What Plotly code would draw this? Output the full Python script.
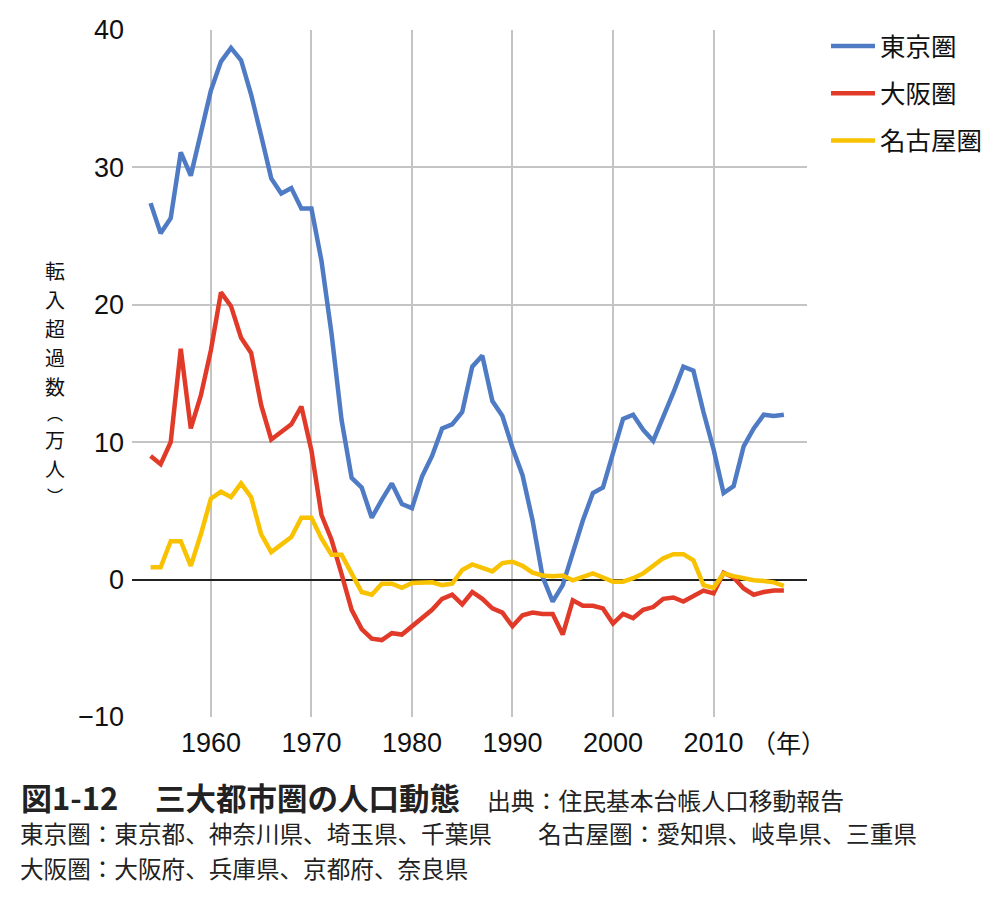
import plotly.graph_objects as go

years = [1954, 1955, 1956, 1957, 1958, 1959, 1960, 1961, 1962, 1963,
         1964, 1965, 1966, 1967, 1968, 1969, 1970, 1971, 1972, 1973,
         1974, 1975, 1976, 1977, 1978, 1979, 1980, 1981, 1982, 1983,
         1984, 1985, 1986, 1987, 1988, 1989, 1990, 1991, 1992, 1993,
         1994, 1995, 1996, 1997, 1998, 1999, 2000, 2001, 2002, 2003,
         2004, 2005, 2006, 2007, 2008, 2009, 2010, 2011, 2012, 2013,
         2014, 2015, 2016, 2017]

tokyo = [27.4, 25.2, 26.3, 31.1, 29.4, 32.5, 35.6, 37.7, 38.7, 37.8,
         35.3, 32.3, 29.2, 28.1, 28.5, 27.0, 27.0, 23.2, 17.9, 11.6,
         7.4, 6.7, 4.5, 5.8, 7.0, 5.5, 5.2, 7.5, 9.0, 11.0,
         11.3, 12.2, 15.5, 16.3, 13.0, 11.9, 9.6, 7.6, 4.3, 0.2,
         -1.6, -0.4, 2.0, 4.3, 6.3, 6.7, 9.2, 11.7, 12.0, 10.9,
         10.1, 11.8, 13.6, 15.5, 15.2, 12.2, 9.5, 6.3, 6.8, 9.7,
         11.0, 12.0, 11.9, 12.0]

osaka = [9.0, 8.4, 10.0, 16.8, 11.0, 13.4, 16.7, 20.9, 19.9, 17.6,
         16.5, 12.7, 10.2, 10.8, 11.3, 12.6, 9.4, 4.7, 2.9, 0.4,
         -2.2, -3.6, -4.3, -4.4, -3.9, -4.0, -3.4, -2.8, -2.2, -1.4,
         -1.1, -1.8, -0.9, -1.4, -2.1, -2.4, -3.4, -2.6, -2.4, -2.5,
         -2.5, -4.0, -1.5, -1.9, -1.9, -2.1, -3.2, -2.5, -2.8, -2.2,
         -2.0, -1.4, -1.3, -1.6, -1.2, -0.8, -1.0, 0.5, 0.15, -0.65,
         -1.1, -0.9, -0.8, -0.8]

nagoya = [0.9, 0.9, 2.8, 2.8, 1.0, 3.3, 5.9, 6.4, 6.0, 7.0,
          6.0, 3.3, 2.0, 2.6, 3.1, 4.5, 4.5, 3.0, 1.8, 1.8,
          0.4, -0.9, -1.1, -0.3, -0.3, -0.6, -0.25, -0.2, -0.2, -0.4,
          -0.3, 0.7, 1.1, 0.85, 0.6, 1.2, 1.3, 1.0, 0.5, 0.3,
          0.25, 0.3, -0.05, 0.2, 0.45, 0.15, -0.15, -0.15, 0.1, 0.45,
          1.0, 1.55, 1.85, 1.85, 1.4, -0.4, -0.6, 0.45, 0.25, 0.1,
          -0.05, -0.1, -0.2, -0.45]

series_names = ["東京圏", "大阪圏", "名古屋圏"]
series_colors = ["#4f7bc4", "#e13a29", "#f9c200"]
x_ticks = [1960, 1970, 1980, 1990, 2000, 2010]
y_ticks = [-10, 0, 10, 20, 30, 40]
ytitle_chars = ["転", "入", "超", "過", "数", "︵", "万", "人", "︶"]

W, H = 1000, 899
L, R, T, B = 132, 807, 30, 717

def px(x):
    return (x - L) / (R - L)

def py(y):
    return (B - y) / (B - T)

NUM_FONT = "Liberation Sans, Arial, sans-serif"
JP_FONT = "Noto Sans CJK JP, sans-serif"

fig = go.Figure()
for i, (name, vals) in enumerate(zip(series_names, [tokyo, osaka, nagoya])):
    fig.add_trace(go.Scatter(
        x=years, y=vals, mode="lines", name=name,
        legendgroup=name,
        line=dict(color=series_colors[i], width=4.5),
    ))

fig.update_layout(
    width=W, height=H,
    margin=dict(l=L, r=W - R, t=T, b=H - B, pad=0),
    paper_bgcolor="white", plot_bgcolor="white",
    showlegend=True,
    legend=dict(
        x=0.826, xref="container", y=1 - 23 / H, yref="container",
        xanchor="left", yanchor="top",
        font=dict(family=JP_FONT, size=25.5, color="#111"),
        traceorder="grouped", tracegroupgap=11, itemwidth=44,
        bgcolor="rgba(0,0,0,0)",
    ),
    xaxis=dict(
        range=[1952.15, 2019.3], tickvals=x_ticks,
        showgrid=True, gridcolor="#c4c4c4", gridwidth=1.5,
        zeroline=False, showline=False, ticks="",
        tickfont=dict(family=NUM_FONT, size=27, color="#111"),
        ticklabelstandoff=7,
    ),
    yaxis=dict(
        range=[-10, 40], tickvals=y_ticks,
        showgrid=True, gridcolor="#c4c4c4", gridwidth=1.5,
        zeroline=True, zerolinecolor="#222", zerolinewidth=1.5,
        showline=False, ticks="",
        tickfont=dict(family=NUM_FONT, size=27, color="#111"),
        ticklabelstandoff=7,
    ),
)

annotations = []
# (年) label
annotations.append(dict(text="（年）", x=px(788), y=py(742), xref="paper", yref="paper",
                        showarrow=False, xanchor="center", yanchor="middle",
                        font=dict(family=JP_FONT, size=25, color="#111")))
# vertical y-axis title, one character per annotation
ytitle_y = [270, 299.2, 328.4, 357.6, 386.8, 413, 439.2, 468.4, 494.6]
ytitle_size = [20, 20, 20, 20, 20, 16, 20, 20, 16]
for ch, yy, sz in zip(ytitle_chars, ytitle_y, ytitle_size):
    annotations.append(dict(text=ch, x=px(55), y=py(yy), xref="paper", yref="paper",
                            showarrow=False, xanchor="center", yanchor="middle",
                            font=dict(family=JP_FONT, size=sz, color="#111")))
# captions
annotations.append(dict(text="<b>図1-12</b>", x=px(19), y=py(797), xref="paper", yref="paper",
                        showarrow=False, xanchor="left", yanchor="middle",
                        font=dict(family=JP_FONT, size=31, color="#222")))
annotations.append(dict(text="<b>三大都市圏の人口動態</b>", x=px(153), y=py(797), xref="paper", yref="paper",
                        showarrow=False, xanchor="left", yanchor="middle",
                        font=dict(family=JP_FONT, size=30.5, color="#222")))
annotations.append(dict(text="出典：住民基本台帳人口移動報告", x=px(485), y=py(799), xref="paper", yref="paper",
                        showarrow=False, xanchor="left", yanchor="middle",
                        font=dict(family=JP_FONT, size=23.8, color="#222")))
annotations.append(dict(text="東京圏：東京都、神奈川県、埼玉県、千葉県", x=px(18), y=py(833), xref="paper", yref="paper",
                        showarrow=False, xanchor="left", yanchor="middle",
                        font=dict(family=JP_FONT, size=23.6, color="#222")))
annotations.append(dict(text="名古屋圏：愛知県、岐阜県、三重県", x=px(536), y=py(833), xref="paper", yref="paper",
                        showarrow=False, xanchor="left", yanchor="middle",
                        font=dict(family=JP_FONT, size=23.7, color="#222")))
annotations.append(dict(text="大阪圏：大阪府、兵庫県、京都府、奈良県", x=px(18), y=py(868), xref="paper", yref="paper",
                        showarrow=False, xanchor="left", yanchor="middle",
                        font=dict(family=JP_FONT, size=23.6, color="#222")))
fig.update_layout(annotations=annotations)

fig.write_html("out.html")
